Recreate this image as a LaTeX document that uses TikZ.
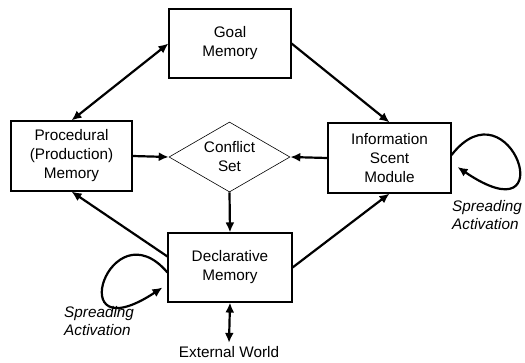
\documentclass[tikz,border=0pt]{standalone}
\usepackage{fontspec}
\setmainfont{Liberation Sans}
\usetikzlibrary{arrows.meta,shapes.geometric}
\tikzset{
  caixa/.style={draw, line width=1.1pt, minimum width=122pt, minimum height=69pt, align=center, inner sep=0pt},
  seta/.style={line width=2.2pt, -{Latex[length=10pt,width=9pt]}},
  setadupla/.style={line width=2.2pt, {Latex[length=10pt,width=9pt]}-{Latex[length=10pt,width=9pt]}},
  rotulo/.style={align=left, font=\fontsize{15.3}{18}\selectfont\itshape, anchor=north west, inner sep=0pt}
}
\begin{document}
\begin{tikzpicture}[x=1pt, y=-1pt, font=\fontsize{15.3}{19}\selectfont] %escala em pixels
\useasboundingbox (0,0) rectangle (525,362);
		%Caixas
	\node[caixa] (goal) at (230,43.5) {Goal\\Memory};
	\node[caixa, minimum width=121pt, minimum height=70pt] (proc) at (71.5,156) {Procedural\\(Production)\\Memory};
	\node[caixa, minimum width=123pt, minimum height=70pt] (info) at (389.5,158) {Information\\Scent\\Module};
	\node[caixa, minimum width=124pt] (decl) at (230,267.5) {Declarative\\Memory};
	\node[draw, diamond, line width=0.6pt, aspect=1.73, minimum width=121pt, minimum height=70pt, inner sep=0pt, align=center] (conf) at (229.5,157) {Conflict\\Set};
	\node (ext) at (229,352) {External World};
		%Setas
	\draw[setadupla] (proc.north) -- (goal.west);
	\draw[seta] (goal.east) -- (info.north);
	\draw[seta] (proc.east) -- (conf.west);
	\draw[seta] (info.west) -- (conf.east);
	\draw[seta] (conf.south) -- (decl.north);
	\draw[seta] (decl.east) -- (info.south);
	\draw[seta] ([yshift=11pt]decl.west) -- (proc.south);
	\draw[setadupla] (decl.south) -- (ext.north);
		%Ativacao
	\draw[seta] ([yshift=-5pt]decl.west) .. controls (110,205) and (60,355) .. ([xshift=-5pt,yshift=-20pt]decl.west);
	\draw[seta] ([yshift=3pt]info.east) .. controls (510,80) and (565,240) .. ([xshift=6pt,yshift=-9pt]info.east);
	\node[rotulo] (sa1) at (452,200) {Spreading\\Activation};
	\node[rotulo] (sa2) at (64,306) {Spreading\\Activation};
\end{tikzpicture}
\end{document}
